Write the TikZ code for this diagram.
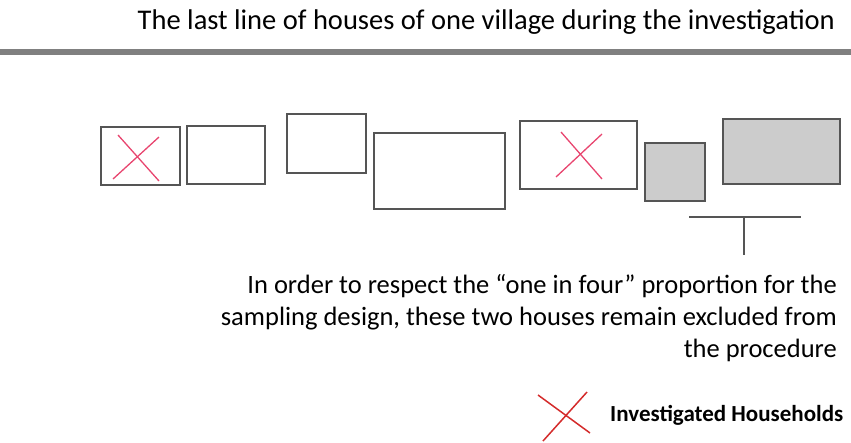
\documentclass[tikz,border=0pt]{standalone}
\usepackage{fontspec}
\setmainfont{Carlito}
\definecolor{boxline}{HTML}{555555}
\definecolor{pinkx}{HTML}{E8456F}
\definecolor{redx}{HTML}{D42B2B}
\definecolor{housefill}{HTML}{CCCCCC}
\definecolor{barcol}{HTML}{808080}
\tikzset{
  house/.style={draw=boxline, line width=1.5pt},
  grayhouse/.style={house, fill=housefill},
  cross/.style={draw=pinkx, line width=1.3pt},
  legendcross/.style={draw=redx, line width=1.5pt},
  bracketline/.style={draw=boxline, line width=1.5pt},
}
\begin{document}
\begin{tikzpicture}[x=1pt,y=-1pt]
\useasboundingbox (0,0) rectangle (851,442);
% title
\node[anchor=base east, inner sep=0pt, font=\fontsize{28.5}{32}\selectfont] (title) at (835,29) {The last line of houses of one village during the investigation};
\fill[barcol] (0,49) rectangle (851,55);
% houses
\draw[house] (101,127) rectangle (180,185);
\draw[house] (187,126) rectangle (265,184);
\draw[house] (287,114) rectangle (366,173);
\draw[house] (374,133) rectangle (505,209);
\draw[house] (520,121) rectangle (637,189);
\draw[grayhouse] (645,143) rectangle (705,201);
\draw[grayhouse] (723,119) rectangle (840,184);
% crosses
\draw[cross] (113,179) -- (159,137);
\draw[cross] (118,135) -- (159,181);
\draw[cross] (556,177) -- (602,134);
\draw[cross] (561,132) -- (602,179);
% bracket
\coordinate (bl) at (689,217);
\coordinate (br) at (801,217);
\coordinate (bt) at (744,217);
\coordinate (bb) at (744,255);
\draw[bracketline] (bl) -- (br);
\draw[bracketline] (bt) -- (bb);
% explanation
\node[anchor=base east, align=right, inner sep=0pt, font=\fontsize{26.5}{32}\selectfont] (expl) at (837,357) {In order to respect the “one in four” proportion for the\\sampling design, these two houses remain excluded from\\the procedure};
% legend
\draw[legendcross] (538,395) -- (590,433);
\draw[legendcross] (587,392) -- (543,441);
\node[anchor=base west, inner sep=0pt, font=\fontsize{23}{26}\bfseries] (legend) at (610,421) {Investigated Households};
\end{tikzpicture}
\end{document}
